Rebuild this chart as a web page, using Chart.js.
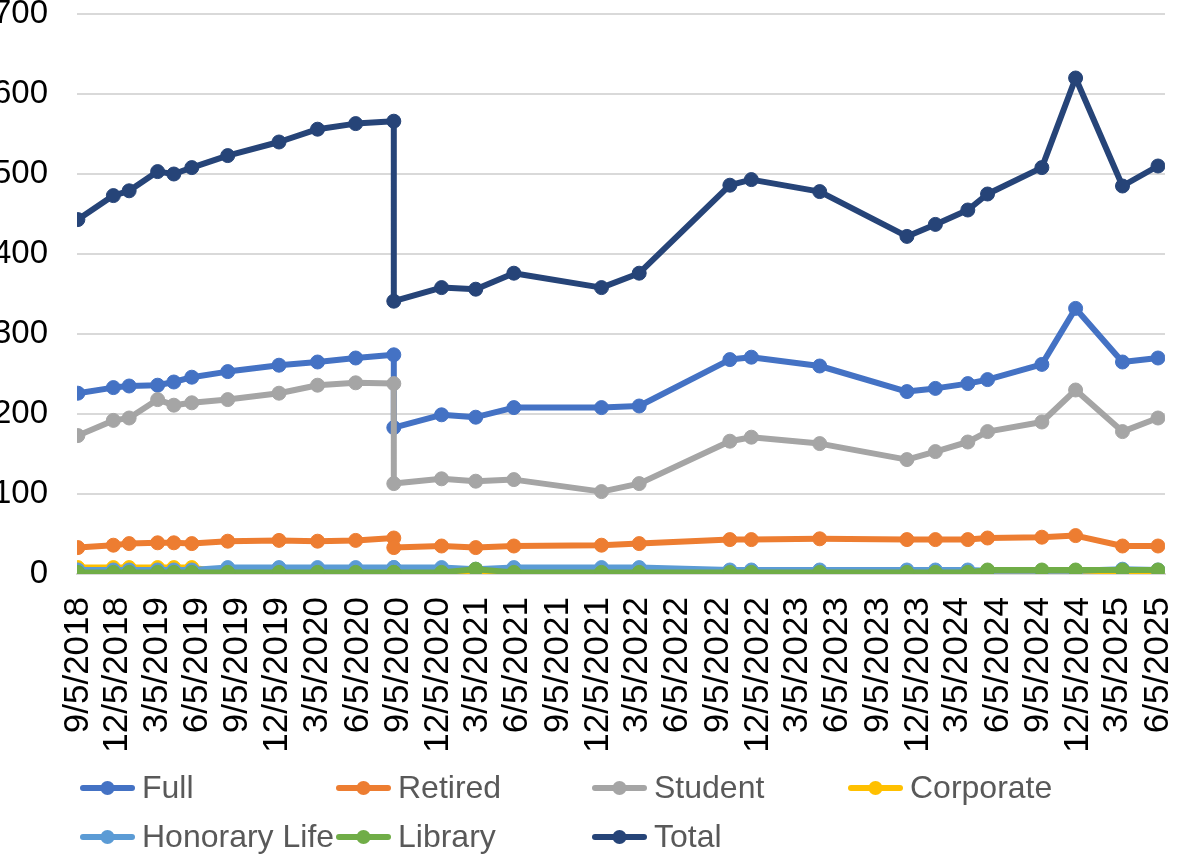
<!DOCTYPE html>
<html>
<head>
<meta charset="utf-8">
<script src="https://cdn.jsdelivr.net/npm/chart.js@4/dist/chart.umd.min.js"></script>
<style>
html,body{margin:0;padding:0;background:#fff;}
#wrap{width:1181px;height:855px;position:relative;}
</style>
</head>
<body>
<div id="wrap"><canvas id="c"></canvas></div>
<script>
// ---- data ----
const dates = ['2018-09-05','2018-11-25','2018-12-31','2019-03-06','2019-04-12','2019-05-23','2019-08-13','2019-12-08','2020-03-05','2020-05-31','2020-08-26','2020-08-26','2020-12-13','2021-03-01','2021-05-27','2021-12-13','2022-03-09','2022-10-02','2022-11-20','2023-04-25','2023-11-10','2024-01-14','2024-03-28','2024-05-12','2024-09-13','2024-11-29','2025-03-16','2025-06-05'];
const tickLabels = ['9/5/2018','12/5/2018','3/5/2019','6/5/2019','9/5/2019','12/5/2019','3/5/2020','6/5/2020','9/5/2020','12/5/2020','3/5/2021','6/5/2021','9/5/2021','12/5/2021','3/5/2022','6/5/2022','9/5/2022','12/5/2022','3/5/2023','6/5/2023','9/5/2023','12/5/2023','3/5/2024','6/5/2024','9/5/2024','12/5/2024','3/5/2025','6/5/2025'];
const yTicks = [0,100,200,300,400,500,600,700];

const full      = [226,233,235,236,240,246,253,261,265,270,274,183,199,196,208,208,210,268,271,260,228,232,238,243,262,332,265,270];
const retired   = [33,36,38,39,39,38,41,42,41,42,45,33,35,33,35,36,38,43,43,44,43,43,43,45,46,48,35,35];
const student   = [173,192,195,218,211,214,218,226,236,239,238,113,119,116,118,103,113,166,171,163,143,153,165,178,190,230,178,195];
const corporate = [8,8,8,8,8,8,2,2,2,2,2,2,2,2,2,2,2,2,2,2,2,2,2,3,3,3,3,1];
const honorary  = [5,5,5,5,5,5,8,8,8,8,8,8,8,6,8,8,8,5,5,5,5,5,5,4,4,4,6,5];
const library   = [2,2,2,2,2,2,2,2,2,2,2,2,2,6,2,2,2,2,2,2,2,2,2,5,5,5,5,5];
const total     = [443,473,479,503,500,508,523,540,556,563,566,341,358,356,376,358,376,486,493,478,422,437,455,475,508,620,485,510];

const seriesNames = ['Full','Retired','Student','Corporate','Honorary Life','Library','Total'];
const seriesValues = [full, retired, student, corporate, honorary, library, total];
const seriesColors = ['#4472C4','#ED7D31','#A5A5A5','#FFC000','#5B9BD5','#70AD47','#264478'];

// ---- helpers ----
function isoToDay(s){const p=s.split('-').map(Number);return Date.UTC(p[0],p[1]-1,p[2])/864e5;}
function mdyToDay(s){const p=s.split('/').map(Number);return Date.UTC(p[2],p[0]-1,p[1])/864e5;}
const xs = dates.map(isoToDay);
const tickDays = tickLabels.map(mdyToDay);

const FONT = '"Liberation Sans", Arial, sans-serif';
Chart.defaults.font.family = FONT;

const datasets = seriesNames.map((name,i)=>({
  label: name,
  data: seriesValues[i].map((v,j)=>({x: xs[j], y: v})),
  borderColor: seriesColors[i],
  backgroundColor: seriesColors[i],
  pointBackgroundColor: seriesColors[i],
  pointBorderColor: seriesColors[i],
  borderWidth: 6,
  pointRadius: 7,
  pointBorderWidth: 1,
  tension: 0,
  borderJoinStyle: 'round',
  borderCapStyle: 'round',
  order: seriesNames.length - i
}));

const gridLegend = {
  id: 'gridLegend',
  afterDraw(chart){
    const ctx = chart.ctx;
    ctx.save();
    ctx.font = '32px ' + FONT;
    ctx.textBaseline = 'middle';
    ctx.textAlign = 'left';
    chart.data.datasets.forEach((ds,i)=>{
      const row = i < 4 ? 0 : 1;
      const col = i < 4 ? i : i - 4;
      const x0 = 80 + col*256;
      const y = 788 + row*49;
      ctx.strokeStyle = ds.borderColor;
      ctx.lineWidth = 6;
      ctx.lineCap = 'round';
      ctx.beginPath(); ctx.moveTo(x0+3, y); ctx.lineTo(x0+52, y); ctx.stroke();
      ctx.fillStyle = ds.borderColor;
      ctx.beginPath(); ctx.arc(x0+27.5, y, 7, 0, Math.PI*2); ctx.fill();
      ctx.fillStyle = '#595959';
      ctx.fillText(ds.label, x0+62, y+1);
    });
    ctx.restore();
  }
};

new Chart(document.getElementById('c'), {
  type: 'line',
  data: { datasets },
  plugins: [gridLegend],
  options: {
    responsive: true,
    maintainAspectRatio: false,
    animation: false,
    layout: { padding: { left: 0, right: 16, top: 14, bottom: 101 } },
    plugins: { legend: { display: false }, tooltip: { enabled: false } },
    scales: {
      x: {
        type: 'linear',
        min: isoToDay('2018-09-03'),
        max: isoToDay('2025-06-21'),
        afterBuildTicks: s => { s.ticks = tickDays.map(v => ({value: v})); },
        afterFit: s => { s.height = 180; s.paddingLeft = 0; s.paddingRight = 0; },
        ticks: {
          autoSkip: false, minRotation: 90, maxRotation: 90, padding: 23,
          color: '#000', font: { size: 35 },
          callback: (v, i) => tickLabels[i]
        },
        grid: { display: false, drawTicks: false },
        border: { display: true, color: '#D9D9D9', width: 2 }
      },
      y: {
        min: 0, max: 700,
        afterBuildTicks: s => { s.ticks = yTicks.map(v => ({value: v})); },
        afterFit: s => { s.width = 77; s.paddingTop = 0; s.paddingBottom = 0; },
        ticks: { padding: 29, color: '#000', font: { size: 33 } },
        grid: { color: '#D9D9D9', lineWidth: 2, drawTicks: false },
        border: { display: false }
      }
    }
  }
});
</script>
</body>
</html>
